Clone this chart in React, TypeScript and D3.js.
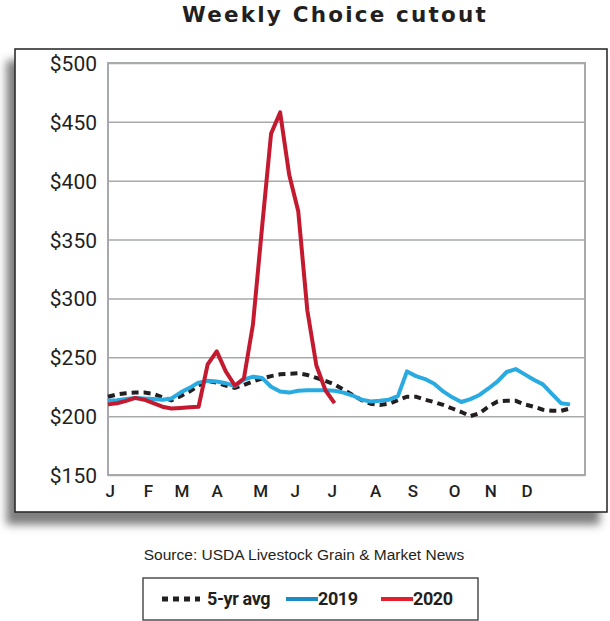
import { FC, useEffect, useRef } from "react"
import * as d3 from 'd3';

// weekly values, $/cwt
const avg5yr = [216.5, 218.5, 219.5, 220, 220, 219, 216, 213.5, 217, 221, 226, 230, 228.5, 226, 224, 226.5, 229.5, 232, 234, 235.5, 236, 236.4, 235, 232.5, 230, 227, 222.5, 218, 213.5, 210.5, 209.5, 210.5, 213.5, 216.5, 216.5, 214, 212, 209.5, 206.5, 203.5, 200, 202.5, 208, 212.5, 213, 213, 210, 208, 205.5, 204.5, 204.5, 206.5]
const y2019 = [213, 213.5, 214.5, 215.5, 215, 214.5, 214, 215, 220, 224, 228.5, 230, 229.5, 228, 225.5, 231, 233.5, 232.5, 225, 221, 220, 221.5, 222, 222, 222, 221.5, 220, 217.5, 214, 212.5, 213, 214, 217, 238, 234, 231.5, 227.5, 221, 216, 212, 214.5, 218, 223.5, 229.5, 237.5, 240, 235.5, 231, 227, 219, 211, 210]
const y2020 = [210, 211, 213, 215.5, 214, 211, 208, 206.5, 207, 207.5, 208, 244, 255, 238, 226, 232, 278, 360, 440, 458, 405, 374, 290, 243, 222, 211]

const monthLabels = ['J', 'F', 'M', 'A', 'M', 'J', 'J', 'A', 'S', 'O', 'N', 'D']
const monthWeeks = [0.2, 4.4, 8.1, 12.0, 16.8, 20.6, 24.7, 29.5, 33.6, 38.2, 42.2, 46.2]
const yTicks = [150, 200, 250, 300, 350, 400, 450, 500]

const legendItems = [
    { label: '5-yr avg', color: '#231f20', dashed: true },
    { label: '2019', color: '#1b8cc3', dashed: false },
    { label: '2020', color: '#e31e2d', dashed: false },
]

const ChoiceChart: FC = () => {
    const svgRef = useRef<SVGSVGElement>(null);

    useEffect(() => {
        const width = 610
        const height = 621
        const svg = d3.select(svgRef.current)
            .attr("width", width)
            .attr("height", height)
            .style('background', '#fff')
        svg.selectAll("*").remove()

        // drop shadow for the frame
        const defs = svg.append('defs')
        const filter = defs.append('filter').attr('id', 'shadow')
            .attr('x', '-10%').attr('y', '-10%').attr('width', '120%').attr('height', '125%')
        filter.append('feDropShadow')
            .attr('dx', -8).attr('dy', 12).attr('stdDeviation', 4)
            .attr('flood-color', '#555').attr('flood-opacity', 0.75)

        // title
        svg.append('text')
            .attr('x', 335).attr('y', 22)
            .attr('text-anchor', 'middle')
            .style('font-family', '"DejaVu Sans", sans-serif')
            .style('font-weight', 'bold')
            .style('font-size', '21.5px')
            .style('letter-spacing', '2.2px')
            .attr('fill', '#231f20')
            .text('Weekly Choice cutout')

        // frame
        svg.append('rect')
            .attr('x', 15).attr('y', 49).attr('width', 592).attr('height', 463)
            .attr('fill', '#fff').attr('stroke', '#231f20').attr('stroke-width', 1.5)
            .attr('filter', 'url(#shadow)')

        const left = 108, right = 585, top = 63, bottom = 475
        const xScale = d3.scaleLinear().domain([0, 52.65]).range([left, right])
        const yScale = d3.scaleLinear().domain([150, 500]).range([bottom, top])

        // gridlines
        const yAxis = d3.axisLeft(yScale)
            .tickValues(yTicks)
            .tickSize(-(right - left))
            .tickPadding(11)
            .tickFormat((d) => `$${d}`)
        const yG = svg.append('g')
            .attr('transform', `translate(${left},0)`)
            .call(yAxis)
        yG.select('.domain').remove()
        yG.selectAll('line').attr('stroke', '#a7a9ac').attr('stroke-width', 1.5)
        yG.selectAll('text')
            .attr('fill', '#231f20')
            .attr('dy', '0.36em')
            .style('font-family', 'Roboto, sans-serif')
            .style('font-size', '21px')

        // plot border
        svg.append('rect')
            .attr('x', left).attr('y', top)
            .attr('width', right - left).attr('height', bottom - top)
            .attr('fill', 'none').attr('stroke', '#a7a9ac').attr('stroke-width', 2)

        // month labels
        const xAxis = d3.axisBottom(xScale)
            .tickValues(monthWeeks)
            .tickSize(0)
            .tickPadding(10)
            .tickFormat((_, i) => monthLabels[i])
        const xG = svg.append('g')
            .attr('transform', `translate(0,${bottom})`)
            .call(xAxis)
        xG.select('.domain').remove()
        xG.selectAll('text')
            .attr('fill', '#231f20')
            .attr('dy', '0.71em')
            .style('font-family', 'Roboto, sans-serif')
            .style('font-weight', 500)
            .style('font-size', '17px')

        const line = d3.line<number>()
            .x((_, i) => xScale(i))
            .y((d) => yScale(d))

        svg.append('path')
            .datum(avg5yr)
            .attr('d', line)
            .attr('fill', 'none')
            .attr('stroke', '#231f20')
            .attr('stroke-width', 4)
            .attr('stroke-dasharray', '7,5')

        svg.append('path')
            .datum(y2019)
            .attr('d', line)
            .attr('fill', 'none')
            .attr('stroke', '#29abe2')
            .attr('stroke-width', 4)
            .attr('stroke-linejoin', 'round')

        svg.append('path')
            .datum(y2020)
            .attr('d', line)
            .attr('fill', 'none')
            .attr('stroke', '#c41a30')
            .attr('stroke-width', 4)
            .attr('stroke-linejoin', 'round')

        // source
        svg.append('text')
            .attr('x', 304).attr('y', 560)
            .attr('text-anchor', 'middle')
            .style('font-family', '"Liberation Sans", Arial, sans-serif')
            .style('font-size', '15.5px')
            .attr('fill', '#231f20')
            .text('Source: USDA Livestock Grain & Market News')

        // legend
        svg.append('rect')
            .attr('x', 143).attr('y', 578).attr('width', 335).attr('height', 42)
            .attr('fill', '#fff').attr('stroke', '#4d4d4f').attr('stroke-width', 1.5)
        const lx = [162, 286, 381]
        const leg = svg.selectAll('.leg').data(legendItems).join('g')
            .attr('transform', (_, i) => `translate(${lx[i]},599)`)
        leg.append('line')
            .attr('x1', 0).attr('x2', (d) => d.dashed ? 38 : 32)
            .attr('stroke', (d) => d.color)
            .attr('stroke-width', (d) => d.dashed ? 5 : 4)
            .attr('stroke-dasharray', (d) => d.dashed ? '6,5' : null)
        leg.append('text')
            .attr('x', (d) => d.dashed ? 45 : 32)
            .attr('dy', '0.36em')
            .style('font-family', 'Roboto, sans-serif')
            .style('font-weight', 'bold')
            .style('font-size', '18px')
            .style('letter-spacing', '-0.4px')
            .attr('fill', '#231f20')
            .text((d) => d.label)
    }, [])

    return (
        <svg ref={svgRef} style={{ position: 'absolute', left: 0, top: 0 }}></svg>
    )
}

export default function App() {
    return <ChoiceChart />
}
